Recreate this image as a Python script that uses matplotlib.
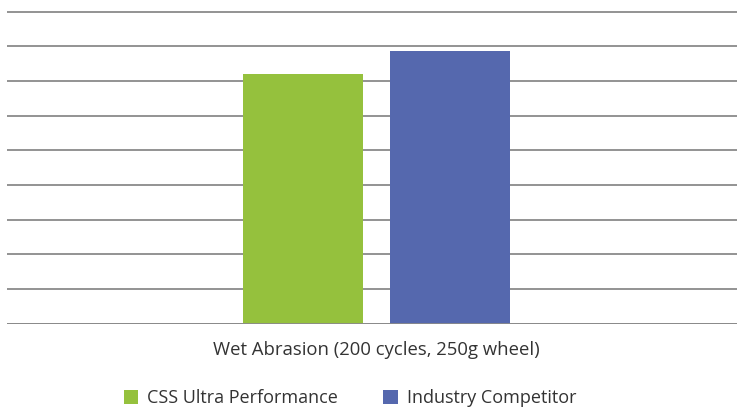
import matplotlib
matplotlib.use('Agg')
import matplotlib.pyplot as plt
from matplotlib.patches import Patch

# ── data ──────────────────────────────────────────────────────────────────────
category = "Wet Abrasion (200 cycles, 250g wheel)"
series = ["CSS Ultra Performance", "Industry Competitor"]
values = [7.21, 7.87]
colors = ["#95c13d", "#5568ae"]

plt.rcParams['font.family'] = ['Open Sans', 'DejaVu Sans']

fig = plt.figure(figsize=(7.37, 4.11), dpi=100)
ax = fig.add_axes([7 / 737, 1 - 323.7 / 411, 730 / 737, (323.7 - 11.5) / 411])

offsets = [-0.1007, 0.1007]
for off, v, c in zip(offsets, values, colors):
    ax.bar(off, v, width=0.164, color=c, zorder=3)

ax.set_xlim(-0.506, 0.494)
ax.set_ylim(0, 9.0)
ax.set_yticks(range(0, 10))
ax.grid(axis='y', color='#8a8a8a', linewidth=1.3, zorder=0)
ax.tick_params(left=False, labelleft=False, bottom=False, labelbottom=False)
for s in ax.spines.values():
    s.set_visible(False)
ax.axhline(0, color='#8a8a8a', linewidth=1.3, zorder=4)

fig.text(376 / 737, 1 - 350 / 411, category, ha='center', va='center',
         fontsize=13.3, color='#333333')

handles = [Patch(facecolor=c, edgecolor='none') for c in colors]
fig.legend(handles, series, loc='center', bbox_to_anchor=(350 / 737, 1 - 398 / 411),
           ncol=2, frameon=False, fontsize=13, handlelength=0.8, handleheight=0.8,
           columnspacing=2.5, handletextpad=0.5, labelcolor='#333333')

fig.savefig("out.png", dpi=100)
